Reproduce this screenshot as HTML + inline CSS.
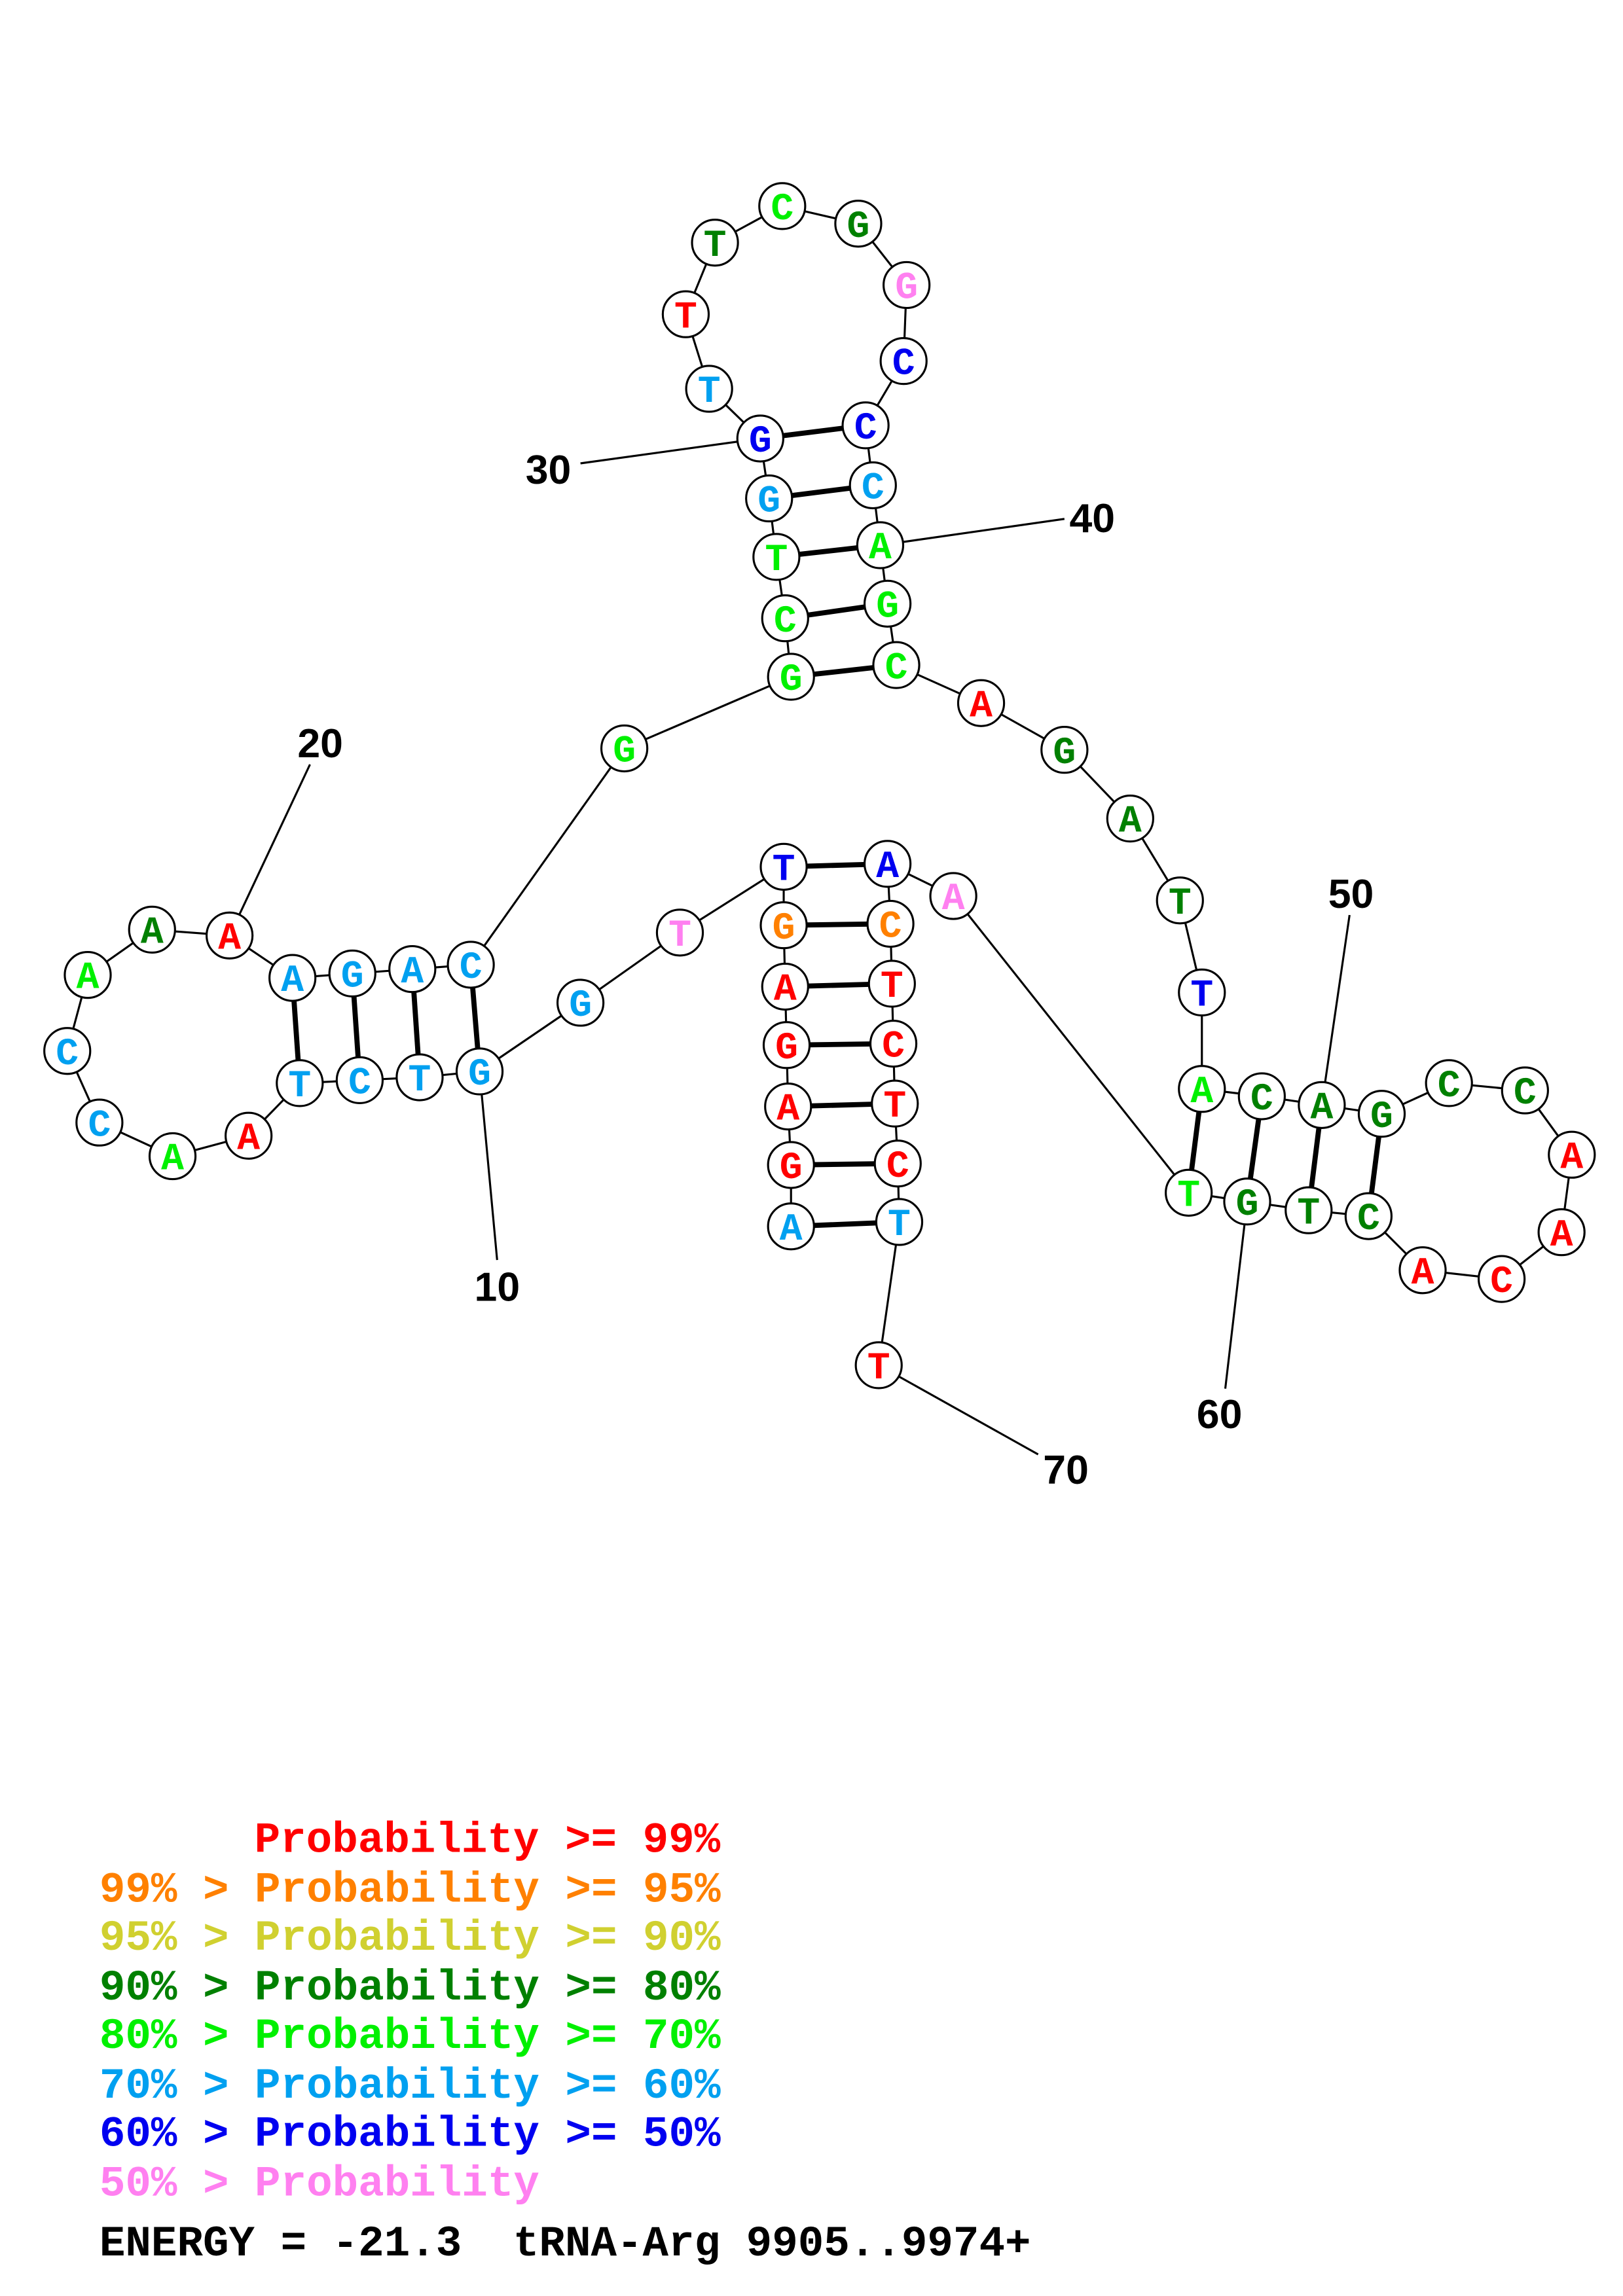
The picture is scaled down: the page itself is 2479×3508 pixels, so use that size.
<!DOCTYPE html>
<html><head><meta charset="utf-8"><style>
html,body{margin:0;padding:0;background:#fff}
svg{display:block}
.n{font-family:"Liberation Mono",monospace;font-weight:bold;font-size:26px;text-anchor:middle}
.lb{font-family:"Liberation Sans",sans-serif;font-weight:bold;font-size:28px;text-anchor:middle}
.lg{font-family:"Liberation Mono",monospace;font-weight:bold;font-size:29.5px}
</style></head><body>
<svg width="2479" height="3508" viewBox="0 0 2479 3508" xmlns="http://www.w3.org/2000/svg">
<rect width="2479" height="3508" fill="#fff"/>
<g transform="scale(2.2333)">
<g stroke="#000" stroke-width="1.4" fill="none">
<line x1="340" y1="862" x2="328" y2="733"/>
<line x1="212" y1="523" x2="157" y2="640"/>
<line x1="397" y1="317" x2="520" y2="300"/>
<line x1="602" y1="373" x2="728" y2="355"/>
<line x1="923" y1="626" x2="904" y2="756"/>
<line x1="838" y1="950" x2="853" y2="822"/>
<line x1="601" y1="934" x2="710" y2="995"/>
<polyline points="541,839 541,797 539,757 538,715 537,675 536,633 536,593 465,638 397,686 328,733 287,737 246,739 205,741 170,777 118,791 68,768 46,719 60,667 104,636 157,640 200,669 241,666 282,663 322,660 427,512 541,463 537,423 531,381 526,341 520,300 485,266 469,215 489,166 535,141 587,153 620,195 618,247 592,291 597,332 602,373 607,413 613,455 671,481 728,513 773,560 807,616 822,679 822,745 863,750 904,756 945,762 991,741 1043,746 1075,790 1068,843 1027,875 973,869 936,832 895,828 853,822 813,816 652,613 607,591 609,632 610,673 611,714 612,755 614,796 615,836 601,934"/>
</g>
<g stroke="#000" stroke-width="3.5">
<line x1="541" y1="839" x2="615" y2="836"/>
<line x1="541" y1="797" x2="614" y2="796"/>
<line x1="539" y1="757" x2="612" y2="755"/>
<line x1="538" y1="715" x2="611" y2="714"/>
<line x1="537" y1="675" x2="610" y2="673"/>
<line x1="536" y1="633" x2="609" y2="632"/>
<line x1="536" y1="593" x2="607" y2="591"/>
<line x1="328" y1="733" x2="322" y2="660"/>
<line x1="287" y1="737" x2="282" y2="663"/>
<line x1="246" y1="739" x2="241" y2="666"/>
<line x1="205" y1="741" x2="200" y2="669"/>
<line x1="541" y1="463" x2="613" y2="455"/>
<line x1="537" y1="423" x2="607" y2="413"/>
<line x1="531" y1="381" x2="602" y2="373"/>
<line x1="526" y1="341" x2="597" y2="332"/>
<line x1="520" y1="300" x2="592" y2="291"/>
<line x1="822" y1="745" x2="813" y2="816"/>
<line x1="863" y1="750" x2="853" y2="822"/>
<line x1="904" y1="756" x2="895" y2="828"/>
<line x1="945" y1="762" x2="936" y2="832"/>
</g>
<g fill="#fff" stroke="#000" stroke-width="1.4">
<circle cx="541" cy="839" r="15.7"/><circle cx="541" cy="797" r="15.7"/><circle cx="539" cy="757" r="15.7"/><circle cx="538" cy="715" r="15.7"/><circle cx="537" cy="675" r="15.7"/><circle cx="536" cy="633" r="15.7"/><circle cx="536" cy="593" r="15.7"/><circle cx="465" cy="638" r="15.7"/><circle cx="397" cy="686" r="15.7"/><circle cx="328" cy="733" r="15.7"/><circle cx="287" cy="737" r="15.7"/><circle cx="246" cy="739" r="15.7"/><circle cx="205" cy="741" r="15.7"/><circle cx="170" cy="777" r="15.7"/><circle cx="118" cy="791" r="15.7"/><circle cx="68" cy="768" r="15.7"/><circle cx="46" cy="719" r="15.7"/><circle cx="60" cy="667" r="15.7"/><circle cx="104" cy="636" r="15.7"/><circle cx="157" cy="640" r="15.7"/><circle cx="200" cy="669" r="15.7"/><circle cx="241" cy="666" r="15.7"/><circle cx="282" cy="663" r="15.7"/><circle cx="322" cy="660" r="15.7"/><circle cx="427" cy="512" r="15.7"/><circle cx="541" cy="463" r="15.7"/><circle cx="537" cy="423" r="15.7"/><circle cx="531" cy="381" r="15.7"/><circle cx="526" cy="341" r="15.7"/><circle cx="520" cy="300" r="15.7"/><circle cx="485" cy="266" r="15.7"/><circle cx="469" cy="215" r="15.7"/><circle cx="489" cy="166" r="15.7"/><circle cx="535" cy="141" r="15.7"/><circle cx="587" cy="153" r="15.7"/><circle cx="620" cy="195" r="15.7"/><circle cx="618" cy="247" r="15.7"/><circle cx="592" cy="291" r="15.7"/><circle cx="597" cy="332" r="15.7"/><circle cx="602" cy="373" r="15.7"/><circle cx="607" cy="413" r="15.7"/><circle cx="613" cy="455" r="15.7"/><circle cx="671" cy="481" r="15.7"/><circle cx="728" cy="513" r="15.7"/><circle cx="773" cy="560" r="15.7"/><circle cx="807" cy="616" r="15.7"/><circle cx="822" cy="679" r="15.7"/><circle cx="822" cy="745" r="15.7"/><circle cx="863" cy="750" r="15.7"/><circle cx="904" cy="756" r="15.7"/><circle cx="945" cy="762" r="15.7"/><circle cx="991" cy="741" r="15.7"/><circle cx="1043" cy="746" r="15.7"/><circle cx="1075" cy="790" r="15.7"/><circle cx="1068" cy="843" r="15.7"/><circle cx="1027" cy="875" r="15.7"/><circle cx="973" cy="869" r="15.7"/><circle cx="936" cy="832" r="15.7"/><circle cx="895" cy="828" r="15.7"/><circle cx="853" cy="822" r="15.7"/><circle cx="813" cy="816" r="15.7"/><circle cx="652" cy="613" r="15.7"/><circle cx="607" cy="591" r="15.7"/><circle cx="609" cy="632" r="15.7"/><circle cx="610" cy="673" r="15.7"/><circle cx="611" cy="714" r="15.7"/><circle cx="612" cy="755" r="15.7"/><circle cx="614" cy="796" r="15.7"/><circle cx="615" cy="836" r="15.7"/><circle cx="601" cy="934" r="15.7"/>
</g>
<g class="n">
<text x="541" y="848" fill="#00a0f0">A</text>
<text x="541" y="806" fill="#f00">G</text>
<text x="539" y="766" fill="#f00">A</text>
<text x="538" y="724" fill="#f00">G</text>
<text x="537" y="684" fill="#f00">A</text>
<text x="536" y="642" fill="#ff8000">G</text>
<text x="536" y="602" fill="#0000f0">T</text>
<text x="465" y="647" fill="#ff80f0">T</text>
<text x="397" y="695" fill="#00a0f0">G</text>
<text x="328" y="742" fill="#00a0f0">G</text>
<text x="287" y="746" fill="#00a0f0">T</text>
<text x="246" y="748" fill="#00a0f0">C</text>
<text x="205" y="750" fill="#00a0f0">T</text>
<text x="170" y="786" fill="#f00">A</text>
<text x="118" y="800" fill="#00f000">A</text>
<text x="68" y="777" fill="#00a0f0">C</text>
<text x="46" y="728" fill="#00a0f0">C</text>
<text x="60" y="676" fill="#00f000">A</text>
<text x="104" y="645" fill="#008000">A</text>
<text x="157" y="649" fill="#f00">A</text>
<text x="200" y="678" fill="#00a0f0">A</text>
<text x="241" y="675" fill="#00a0f0">G</text>
<text x="282" y="672" fill="#00a0f0">A</text>
<text x="322" y="669" fill="#00a0f0">C</text>
<text x="427" y="521" fill="#00f000">G</text>
<text x="541" y="472" fill="#00f000">G</text>
<text x="537" y="432" fill="#00f000">C</text>
<text x="531" y="390" fill="#00f000">T</text>
<text x="526" y="350" fill="#00a0f0">G</text>
<text x="520" y="309" fill="#0000f0">G</text>
<text x="485" y="275" fill="#00a0f0">T</text>
<text x="469" y="224" fill="#f00">T</text>
<text x="489" y="175" fill="#008000">T</text>
<text x="535" y="150" fill="#00f000">C</text>
<text x="587" y="162" fill="#008000">G</text>
<text x="620" y="204" fill="#ff80f0">G</text>
<text x="618" y="256" fill="#0000f0">C</text>
<text x="592" y="300" fill="#0000f0">C</text>
<text x="597" y="341" fill="#00a0f0">C</text>
<text x="602" y="382" fill="#00f000">A</text>
<text x="607" y="422" fill="#00f000">G</text>
<text x="613" y="464" fill="#00f000">C</text>
<text x="671" y="490" fill="#f00">A</text>
<text x="728" y="522" fill="#008000">G</text>
<text x="773" y="569" fill="#008000">A</text>
<text x="807" y="625" fill="#008000">T</text>
<text x="822" y="688" fill="#0000f0">T</text>
<text x="822" y="754" fill="#00f000">A</text>
<text x="863" y="759" fill="#008000">C</text>
<text x="904" y="765" fill="#008000">A</text>
<text x="945" y="771" fill="#008000">G</text>
<text x="991" y="750" fill="#008000">C</text>
<text x="1043" y="755" fill="#008000">C</text>
<text x="1075" y="799" fill="#f00">A</text>
<text x="1068" y="852" fill="#f00">A</text>
<text x="1027" y="884" fill="#f00">C</text>
<text x="973" y="878" fill="#f00">A</text>
<text x="936" y="841" fill="#008000">C</text>
<text x="895" y="837" fill="#008000">T</text>
<text x="853" y="831" fill="#008000">G</text>
<text x="813" y="825" fill="#00f000">T</text>
<text x="652" y="622" fill="#ff80f0">A</text>
<text x="607" y="600" fill="#0000f0">A</text>
<text x="609" y="641" fill="#ff8000">C</text>
<text x="610" y="682" fill="#f00">T</text>
<text x="611" y="723" fill="#f00">C</text>
<text x="612" y="764" fill="#f00">T</text>
<text x="614" y="805" fill="#f00">C</text>
<text x="615" y="845" fill="#00a0f0">T</text>
<text x="601" y="943" fill="#f00">T</text>
</g>
<g class="lb" fill="#000">
<text x="340" y="890">10</text>
<text x="219" y="518">20</text>
<text x="375" y="331">30</text>
<text x="747" y="364">40</text>
<text x="924" y="621">50</text>
<text x="834" y="977">60</text>
<text x="729" y="1015">70</text>
</g>
<g class="lg">
<text x="174" y="1267" fill="#f00">Probability &gt;= 99%</text>
<text x="68" y="1301" fill="#ff8000">99% &gt; Probability &gt;= 95%</text>
<text x="68" y="1334" fill="#d0d030">95% &gt; Probability &gt;= 90%</text>
<text x="68" y="1368" fill="#008000">90% &gt; Probability &gt;= 80%</text>
<text x="68" y="1401" fill="#00f000">80% &gt; Probability &gt;= 70%</text>
<text x="68" y="1435" fill="#00a0f0">70% &gt; Probability &gt;= 60%</text>
<text x="68" y="1468" fill="#0000f0">60% &gt; Probability &gt;= 50%</text>
<text x="68" y="1502" fill="#ff80f0">50% &gt; Probability</text>
<text x="68" y="1543" fill="#000">ENERGY = -21.3</text>
<text x="351" y="1543" fill="#000">tRNA-Arg 9905..9974+</text>
</g>
</g>
</svg>
</body></html>
